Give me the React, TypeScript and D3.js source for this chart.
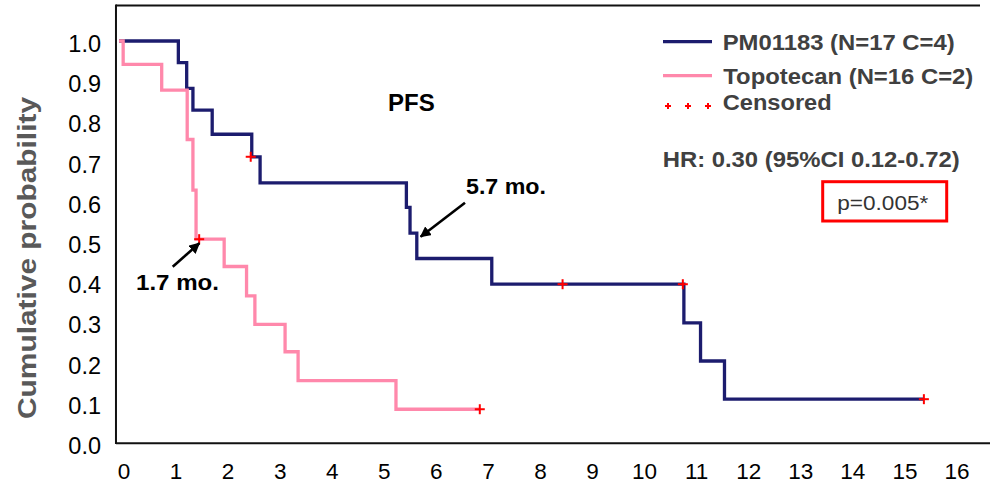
import React from "react";
import * as d3 from "d3";

const xTicks = [0, 1, 2, 3, 4, 5, 6, 7, 8, 9, 10, 11, 12, 13, 14, 15, 16];
const yTicks = [0, 0.1, 0.2, 0.3, 0.4, 0.5, 0.6, 0.7, 0.8, 0.9, 1.0];

// PM01183 Kaplan-Meier step curve (time in months, cumulative probability)
const pmTimes = [0, 1.14, 1.3, 1.42, 1.79, 2.55, 2.71, 5.52, 5.59, 5.72, 7.16, 10.85, 11.17, 11.63, 15.46];
const pmSurv = [1.0, 0.946, 0.882, 0.828, 0.768, 0.712, 0.647, 0.586, 0.522, 0.459, 0.395, 0.299, 0.204, 0.109, 0.109];
const pmCensTimes = [2.53, 8.52, 10.83, 15.46];
const pmCensSurv = [0.712, 0.395, 0.395, 0.109];

// Topotecan Kaplan-Meier step curve
const topoTimes = [0, 0.08, 0.82, 1.31, 1.42, 1.48, 2.02, 2.45, 2.61, 3.19, 3.44, 5.32, 6.93];
const topoSurv = [1.0, 0.942, 0.878, 0.755, 0.629, 0.507, 0.439, 0.366, 0.295, 0.227, 0.155, 0.084, 0.084];
const topoCensTimes = [1.54, 6.93];
const topoCensSurv = [0.507, 0.084];

const seriesNames = ["PM01183 (N=17 C=4)", "Topotecan (N=16 C=2)", "Censored"];
const medianLabels = ["1.7 mo.", "5.7 mo."];

const NAVY = "#1c1c6e";
const PINK = "#ff88ab";
const RED = "#ff0000";
const FONT = "'Liberation Sans', Arial, Helvetica, sans-serif";

export default function App() {
  const W = 990;
  const H = 484;
  const x = d3.scaleLinear().domain([0, 16]).range([119, 952]);
  const y = d3.scaleLinear().domain([0, 1]).range([443, 41]);

  const line = d3
    .line<[number, number]>()
    .x((d) => x(d[0]))
    .y((d) => y(d[1]))
    .curve(d3.curveStepAfter);

  const pmPts = pmTimes.map((t, i) => [t, pmSurv[i]] as [number, number]);
  const topoPts = topoTimes.map((t, i) => [t, topoSurv[i]] as [number, number]);

  const cross = (cx: number, cy: number, s: number, key: string) => (
    <g key={key} stroke={RED} strokeWidth={2}>
      <line x1={cx - s} x2={cx + s} y1={cy} y2={cy} />
      <line x1={cx} x2={cx} y1={cy - s} y2={cy + s} />
    </g>
  );

  const axisLeftX = x(-0.058);
  const plotTop = 5.5;

  return (
    <svg
      width={W}
      height={H}
      style={{ position: "absolute", left: 0, top: 0, display: "block", background: "#fff" }}
      fontFamily={FONT}
    >
      <defs>
        <marker id="ah" viewBox="0 0 10 10" refX="9" refY="5" markerWidth="4.2" markerHeight="4.2" orient="auto" markerUnits="strokeWidth">
          <path d="M0,0 L10,5 L0,10 z" fill="#000" />
        </marker>
      </defs>

      {/* frame */}
      <line x1={axisLeftX} x2={axisLeftX} y1={plotTop - 1} y2={444} stroke="#111" strokeWidth={2} />
      <line x1={axisLeftX} x2={980} y1={plotTop} y2={plotTop} stroke="#111" strokeWidth={2} />
      <line x1={axisLeftX} x2={990} y1={443.3} y2={443.3} stroke="#111" strokeWidth={2} />

      {/* y tick labels */}
      {yTicks.map((v) => (
        <text key={v} x={101} y={y(v) + 11} textAnchor="end" fontSize={23.5} fill="#000">
          {v.toFixed(1)}
        </text>
      ))}
      {/* x tick labels */}
      {xTicks.map((t) => (
        <text key={t} x={x(t) + 5} y={479} textAnchor="middle" fontSize={22.5} fill="#000">
          {t}
        </text>
      ))}

      {/* y axis title */}
      <text
        transform={`translate(36, 258) rotate(-90)`}
        textAnchor="middle"
        fontSize={25}
        fontWeight="bold"
        fill="#595959"
        textLength={322}
        lengthAdjust="spacingAndGlyphs"
      >
        Cumulative probability
      </text>

      {/* curves */}
      <path d={line(pmPts) || ""} fill="none" stroke={NAVY} strokeWidth={3.3} />
      <path d={line(topoPts) || ""} fill="none" stroke={PINK} strokeWidth={3.3} />

      {/* censor marks */}
      {pmCensTimes.map((t, i) => cross(x(t), y(pmCensSurv[i]), 5, "pc" + i))}
      {topoCensTimes.map((t, i) => cross(x(t), y(topoCensSurv[i]), 5, "tc" + i))}

      {/* PFS */}
      <text x={388} y={111} fontSize={24} fontWeight="bold" fill="#000">PFS</text>

      {/* median annotations */}
      <line x1={172.7} y1={266.7} x2={199.3} y2={243.3} stroke="#000" strokeWidth={2.6} markerEnd="url(#ah)" />
      <text x={136} y={290} fontSize={22} fontWeight="bold" fill="#000" textLength={83} lengthAdjust="spacingAndGlyphs">
        {medianLabels[0]}
      </text>
      <line x1={465} y1={202.7} x2={420.7} y2={236.7} stroke="#000" strokeWidth={2.6} markerEnd="url(#ah)" />
      <text x={466} y={194} fontSize={22} fontWeight="bold" fill="#000" textLength={80} lengthAdjust="spacingAndGlyphs">
        {medianLabels[1]}
      </text>

      {/* legend */}
      <line x1={663} x2={712} y1={41.7} y2={41.7} stroke={NAVY} strokeWidth={3.3} />
      <text x={722.7} y={50} fontSize={22} fontWeight="bold" fill="#404040" textLength={232} lengthAdjust="spacingAndGlyphs">
        {seriesNames[0]}
      </text>
      <line x1={663} x2={712} y1={75.7} y2={75.7} stroke={PINK} strokeWidth={3.3} />
      <text x={723.3} y={84} fontSize={22} fontWeight="bold" fill="#404040" textLength={250} lengthAdjust="spacingAndGlyphs">
        {seriesNames[1]}
      </text>
      {[668, 688, 708].map((cx, i) => cross(cx, 106, 3, "lc" + i))}
      <text x={722.7} y={110} fontSize={22} fontWeight="bold" fill="#404040" textLength={109} lengthAdjust="spacingAndGlyphs">
        {seriesNames[2]}
      </text>

      <text x={662.7} y={166.5} fontSize={22} fontWeight="bold" fill="#404040" textLength={297} lengthAdjust="spacingAndGlyphs">
        HR: 0.30 (95%CI 0.12-0.72)
      </text>

      <rect x={822.7} y={181.7} width={124} height={39.3} fill="none" stroke={RED} strokeWidth={3} />
      <text x={837.3} y={210} fontSize={19.5} fill="#333" textLength={91} lengthAdjust="spacingAndGlyphs">
        p=0.005*
      </text>
    </svg>
  );
}
